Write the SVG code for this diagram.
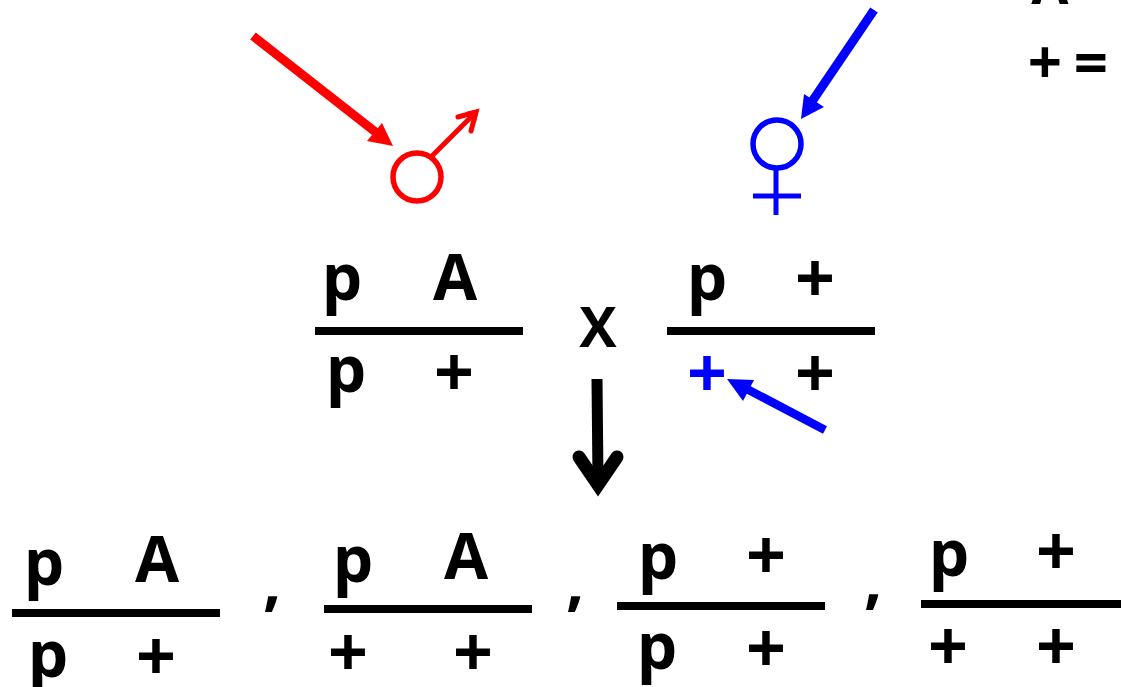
<svg xmlns="http://www.w3.org/2000/svg" width="1121" height="687" viewBox="0 0 1121 687">
<style>
text{font-family:"Open Sans","Liberation Sans",sans-serif;font-weight:700;font-size:64px;fill:#000;text-anchor:middle}
text.s{font-size:54px}
text.l{font-size:60px}
text.p{font-size:70px}
text.x{font-size:56px}
.bar{stroke:#000;stroke-width:8;fill:none}
.r{stroke:#f00;fill:none;stroke-width:5}
.b{stroke:#00f;fill:none;stroke-width:5}
</style>
<rect width="1121" height="687" fill="#fff"/>
<g id="legend"><text class="s" x="1050" y="4">A</text><text class="l" x="1045" y="84">+</text><text class="l" x="1091" y="84">=</text></g>
<g id="male"><circle class="r" cx="417" cy="177" r="24" style="stroke-width:5.5"/><path class="r" d="M432 156L474 114"/><path class="r" d="M458 117L476 112L471 131" stroke-linecap="round"/><path d="M479 109L466 112L476 122Z" fill="#f00"/></g>
<g id="female"><circle class="b" cx="777" cy="144" r="24" style="stroke-width:5.5"/><path class="b" d="M776 168V215M753 196H801"/></g>
<g id="parent-male"><text x="342" y="300">p</text><text x="455" y="300">A</text><path class="bar" d="M315 331H523"/><text x="346" y="392">p</text><text class="p" x="454" y="397">+</text></g>
<g id="cross"><text class="x" x="598" y="347">X</text></g>
<g id="parent-female"><text x="707" y="300">p</text><text class="p" x="815" y="303">+</text><path class="bar" d="M667 331H875"/><text class="p" x="707" y="398" style="fill:#00f">+</text><text class="p" x="815" y="398">+</text></g>
<g id="offspring-1"><text x="44" y="585">p</text><text x="157" y="582">A</text><path class="bar" d="M12 613H220"/><text x="48" y="677">p</text><text class="p" x="156" y="681">+</text></g>
<g id="comma-1"><text x="272" y="604">,</text></g>
<g id="offspring-2"><text x="353" y="582">p</text><text x="466" y="579">A</text><path class="bar" d="M324 609H532"/><text class="p" x="348" y="677">+</text><text class="p" x="473" y="677">+</text></g>
<g id="comma-2"><text x="575" y="604">,</text></g>
<g id="offspring-3"><text x="658" y="579">p</text><text class="p" x="766" y="580">+</text><path class="bar" d="M617 606H825"/><text x="657" y="669">p</text><text class="p" x="766" y="673">+</text></g>
<g id="comma-3"><text x="873" y="602">,</text></g>
<g id="offspring-4"><text x="949" y="576">p</text><text class="p" x="1056" y="576">+</text><path class="bar" d="M921 604H1121"/><text class="p" x="948" y="671">+</text><text class="p" x="1056" y="671">+</text></g>
<g id="connectors">
<path d="M253 36L378 134" stroke="#f00" stroke-width="9" fill="none"/><path d="M393 146L367 141L382 123Z" fill="#f00"/>
<path d="M874 10L811 103" stroke="#00f" stroke-width="9" fill="none"/><path d="M801 119L804 94L824 107Z" fill="#00f"/>
<path d="M825 430L745 388" stroke="#00f" stroke-width="8.5" fill="none"/><path d="M727 379L754 380L743 401Z" fill="#00f"/>
<path d="M597 379L598 480" stroke="#000" stroke-width="11" fill="none"/><path d="M579 457L598 485L617 457" stroke="#000" stroke-width="13" stroke-linecap="round" fill="none"/>
</g>
</svg>
